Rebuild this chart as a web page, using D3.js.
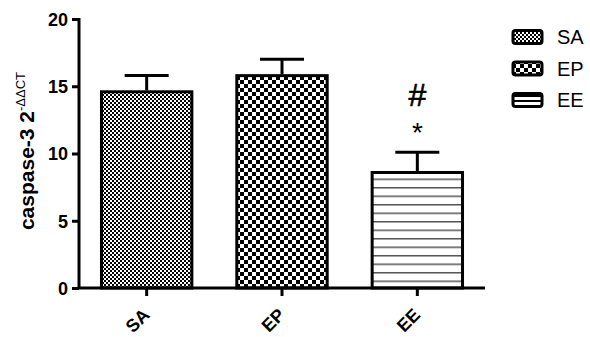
<!DOCTYPE html>
<html><head><meta charset="utf-8">
<script src="https://cdn.jsdelivr.net/npm/d3@7"></script>
<style>body{margin:0;background:#fff}svg{display:block}</style>
</head><body>
<svg id="c" width="590" height="337"></svg>
<script>
const categories = ["SA", "EP", "EE"];
const means = [14.7, 15.9, 8.7];
const errors = [1.1, 1.1, 1.4];
const yTicks = [0, 5, 10, 15, 20];
const annotations = ["", "", "#"];
const annotations2 = ["", "", "*"];

const FONT = "Liberation Sans, Arial, sans-serif";
const svg = d3.select("#c");
const defs = svg.append("defs");
// SA: fine checker
const p1 = defs.append("pattern").attr("id","pSA").attr("patternUnits","userSpaceOnUse").attr("width",4).attr("height",4);
p1.append("rect").attr("width",4).attr("height",4).attr("fill","#fff");
p1.append("rect").attr("width",2).attr("height",2).attr("fill","#000");
p1.append("rect").attr("x",2).attr("y",2).attr("width",2).attr("height",2).attr("fill","#000");
// EP: coarse checker
const p2 = defs.append("pattern").attr("id","pEP").attr("patternUnits","userSpaceOnUse").attr("width",8).attr("height",8);
p2.append("rect").attr("width",8).attr("height",8).attr("fill","#fff");
p2.append("rect").attr("width",4).attr("height",4).attr("fill","#000");
p2.append("rect").attr("x",4).attr("y",4).attr("width",4).attr("height",4).attr("fill","#000");
// EE: horizontal lines
const p3 = defs.append("pattern").attr("id","pEE").attr("patternUnits","userSpaceOnUse").attr("width",8).attr("height",8.5);
p3.append("rect").attr("width",8).attr("height",8.5).attr("fill","#fff");
p3.append("rect").attr("y",0).attr("width",8).attr("height",1.5).attr("fill","#555");
// legend EE: two lines
const p4 = defs.append("pattern").attr("id","pEEl").attr("patternUnits","userSpaceOnUse").attr("width",8).attr("height",5);
p4.append("rect").attr("width",8).attr("height",5).attr("fill","#fff");
p4.append("rect").attr("y",0).attr("width",8).attr("height",2).attr("fill","#000");
const pats = ["url(#pSA)","url(#pEP)","url(#pEE)"];
const legPats = ["url(#pSA)","url(#pEP)","url(#pEEl)"];

const x = d3.scaleBand().domain(categories).range([79, 485]).paddingInner(0.31).paddingOuter(0.155);
const y = d3.scaleLinear().domain([0, 20]).range([288, 19]);

// bars
const g = svg.append("g");
g.selectAll("rect.bar").data(categories).join("rect")
  .attr("x", d => x(d)+1.5).attr("width", x.bandwidth()-3)
  .attr("y", (d,i) => y(means[i])+1.5).attr("height", (d,i) => y(0)-y(means[i])-1.5)
  .attr("fill", (d,i) => pats[i]).attr("stroke","#000").attr("stroke-width",3);

// error bars
const cx = d => x(d) + x.bandwidth()/2;
g.selectAll("line.eb").data(categories).join("line")
  .attr("x1", cx).attr("x2", cx)
  .attr("y1", (d,i) => y(means[i])).attr("y2", (d,i) => y(means[i]+errors[i]))
  .attr("stroke","#000").attr("stroke-width",3);
g.selectAll("line.cap").data(categories).join("line")
  .attr("x1", d => cx(d)-22).attr("x2", d => cx(d)+22)
  .attr("y1", (d,i) => y(means[i]+errors[i])).attr("y2", (d,i) => y(means[i]+errors[i]))
  .attr("stroke","#000").attr("stroke-width",3);

// annotations
g.selectAll("text.a1").data(categories).join("text")
  .attr("x", cx).attr("y", 106).attr("text-anchor","middle")
  .attr("font-family",FONT).attr("font-size",32).attr("fill","#000")
  .attr("stroke","#000").attr("stroke-width",0.6)
  .text((d,i) => annotations[i]);
g.selectAll("text.a2").data(categories).join("text")
  .attr("x", cx).attr("y", 142).attr("text-anchor","middle")
  .attr("font-family",FONT).attr("font-size",28).attr("fill","#000")
  .text((d,i) => annotations2[i]);

// axes
const yAxis = d3.axisLeft(y).tickValues(yTicks).tickSize(7).tickPadding(4).tickSizeOuter(0);
const ya = svg.append("g").attr("transform","translate(79,0)").call(yAxis);
ya.select(".domain").attr("stroke-width",3).attr("d","M0,289V18");
ya.selectAll(".tick line").attr("stroke-width",3);
ya.selectAll(".tick text").attr("font-family",FONT).attr("font-weight","bold").attr("font-size",18).attr("fill","#000").attr("dy","0.36em");

const xAxis = d3.axisBottom(x).tickSize(8).tickSizeOuter(0);
const xa = svg.append("g").attr("transform","translate(0,288)").call(xAxis);
xa.select(".domain").attr("stroke-width",3).attr("d","M78,0H485");
xa.selectAll(".tick line").attr("stroke-width",3);
xa.selectAll(".tick text").attr("font-family",FONT).attr("font-weight","bold").attr("font-size",18).attr("fill","#000")
  .attr("text-anchor","end").attr("dy",null).attr("y",0)
  .attr("transform","translate(4,28) rotate(-45)");

// y label
const yl = svg.append("text").attr("transform","translate(34,151) rotate(-90)").attr("text-anchor","middle")
  .attr("font-family",FONT).attr("fill","#000");
yl.append("tspan").attr("font-weight","bold").attr("font-size",21).text("caspase-3 2");
yl.append("tspan").attr("font-size",13).attr("dy",-9).text("-ΔΔCT");

// legend
const lg = svg.append("g");
categories.forEach((c,i) => {
  const ly = 37 + i*31.5;
  lg.append("rect").attr("x",513).attr("y",ly-6.5).attr("width",29).attr("height",13).attr("rx",2.5)
    .attr("fill",legPats[i]).attr("stroke","#000").attr("stroke-width",3);
  lg.append("text").attr("x",557).attr("y",ly).attr("dy","0.36em")
    .attr("font-family",FONT).attr("font-size",20).attr("fill","#000").text(c);
});
</script>
</body></html>
